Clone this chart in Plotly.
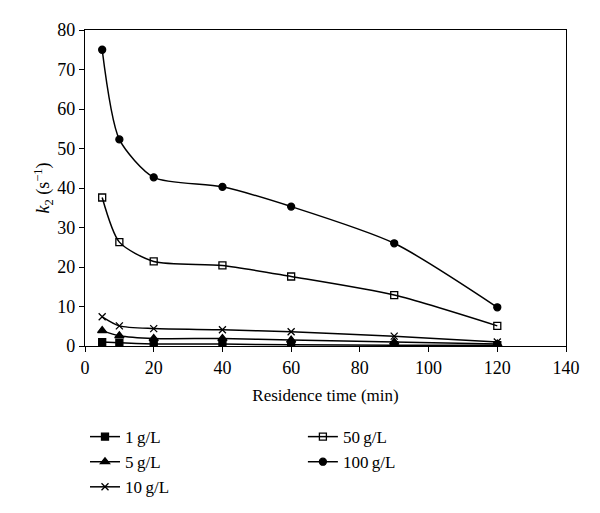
import plotly.graph_objects as go

time_min = [5, 10, 20, 40, 60, 90, 120]
k2_1gL = [1.0, 0.8, 0.5, 0.5, 0.3, 0.2, 0.2]
k2_5gL = [3.9, 2.6, 1.9, 1.9, 1.5, 1.0, 0.5]
k2_10gL = [7.4, 5.1, 4.4, 4.1, 3.6, 2.5, 1.0]
k2_50gL = [37.6, 26.3, 21.4, 20.4, 17.6, 12.9, 5.1]
k2_100gL = [75.0, 52.3, 42.7, 40.3, 35.3, 26.0, 9.8]

series = [
    ("1\u2009g/L", k2_1gL, "square", 7, "legend"),
    ("5\u2009g/L", k2_5gL, "triangle-up", 8, "legend"),
    ("10\u2009g/L", k2_10gL, "x-thin", 7, "legend"),
    ("50\u2009g/L", k2_50gL, "square-open", 7, "legend2"),
    ("100\u2009g/L", k2_100gL, "circle", 7, "legend2"),
]

fig = go.Figure()
for name, ys, sym, size, leg in series:
    fig.add_trace(go.Scatter(
        x=time_min, y=ys, name=name, mode="lines+markers",
        line=dict(color="black", width=1.5, shape="spline", smoothing=0.7),
        marker=dict(symbol=sym, size=size, color="black",
                    line=dict(color="black", width=1.3)),
        legend=leg,
    ))

font = "Liberation Serif, Times New Roman, serif"
fig.update_layout(
    width=592, height=505,
    margin=dict(l=77, r=34, t=22, b=167),
    paper_bgcolor="white", plot_bgcolor="white",
    font=dict(family=font, size=18, color="black"),
    xaxis=dict(range=[0, 140], dtick=20, showline=True, linecolor="black", linewidth=1.3,
               mirror=True, ticks="outside", ticklen=5, tickcolor="black",
               showgrid=False, zeroline=False,
               title=dict(text="Residence time (min)", font=dict(size=17), standoff=12)),
    yaxis=dict(range=[0, 80], dtick=10, showline=True, linecolor="black", linewidth=1.3,
               mirror=True, ticks="outside", ticklen=5, tickcolor="black",
               showgrid=False, zeroline=False,
               title=dict(text="<i>k</i><sub>2</sub> (s<sup>\u22121</sup>)", font=dict(size=18), standoff=2)),
    legend=dict(x=0.0, y=0.186, yref="container",
                xanchor="left", yanchor="top", orientation="v",
                font=dict(size=17), tracegroupgap=0, itemwidth=30, bgcolor="rgba(0,0,0,0)"),
    legend2=dict(x=0.453, y=0.186, yref="container",
                 xanchor="left", yanchor="top", orientation="v",
                 font=dict(size=17), tracegroupgap=0, itemwidth=30, bgcolor="rgba(0,0,0,0)"),
    showlegend=True,
)

fig.write_html("out.html")
